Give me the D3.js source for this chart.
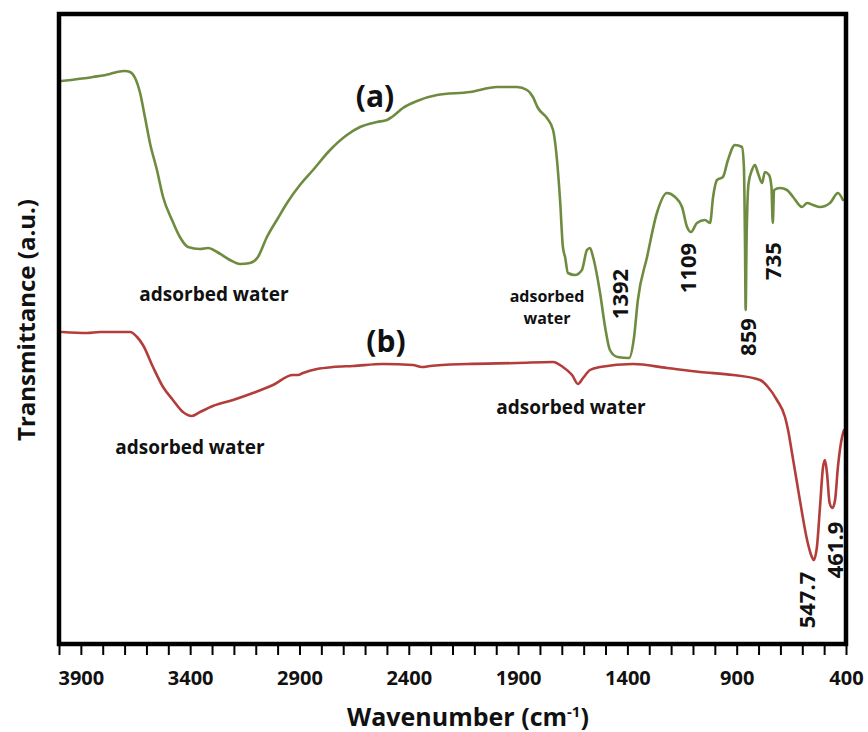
<!DOCTYPE html>
<html>
<head>
<meta charset="utf-8">
<script src="https://cdn.jsdelivr.net/npm/d3@7"></script>
<style>
  html, body { margin: 0; padding: 0; background: #fff; }
  svg text { font-family: "Open Sans", "DejaVu Sans", sans-serif; font-weight: 700; fill: #111; }
</style>
</head>
<body>
<svg id="chart" width="868" height="732"></svg>
<script>
// FTIR spectra: (a) precursor, (b) calcined product
const waveA = [3990, 3844, 3767, 3735, 3698, 3675, 3652, 3629, 3607, 3584,
  3552, 3524, 3483, 3447, 3410, 3355, 3318, 3277, 3218, 3172,
  3126, 3090, 3049, 2998, 2957, 2898, 2838, 2760, 2683, 2623,
  2545, 2500, 2477, 2427, 2362, 2271, 2120, 1996, 1905, 1859,
  1832, 1809, 1768, 1740, 1722, 1708, 1695, 1685, 1672, 1640,
  1608, 1585, 1571, 1557, 1525, 1502, 1480, 1445, 1392, 1370,
  1352, 1310, 1265, 1219, 1182, 1150, 1127, 1109, 1082, 1045,
  1022, 1008, 990, 963, 940, 908, 876, 867, 862, 859,
  855, 846, 830, 816, 803, 784, 771, 752, 741, 735,
  729, 702, 670, 642, 601, 578, 551, 519, 473, 437, 414];
const transA = [56.3, 56.7, 57.0, 57.2, 57.3, 57.2, 56.6, 55.1, 52.7, 50.1,
  47.4, 44.7, 42.4, 40.7, 39.7, 39.5, 39.6, 39.2, 38.4, 38.0,
  38.1, 38.7, 40.7, 42.6, 44.1, 45.9, 47.4, 49.4, 50.9, 51.7,
  52.2, 52.4, 52.7, 53.6, 54.3, 54.9, 55.2, 55.7, 55.7, 55.4,
  54.7, 53.6, 52.6, 51.4, 48.4, 44.4, 39.7, 38.7, 37.1, 36.9,
  37.4, 39.4, 39.6, 38.7, 35.1, 31.7, 29.4, 28.7, 28.6, 30.6,
  34.4, 38.7, 43.1, 45.1, 44.7, 43.7, 41.7, 41.2, 42.1, 42.4,
  42.1, 44.7, 46.4, 46.7, 48.4, 49.9, 49.7, 47.7, 40.0, 33.4,
  40.0, 46.0, 47.4, 47.9, 47.1, 46.1, 47.2, 46.9, 45.7, 42.1,
  45.4, 45.6, 45.4, 44.7, 43.7, 44.1, 43.9, 43.7, 44.1, 45.1, 44.4];

const waveB = [3986, 3872, 3812, 3675, 3643, 3616, 3570, 3524, 3479, 3433,
  3392, 3355, 3296, 3204, 3113, 3021, 2930, 2907, 2884, 2820,
  2747, 2655, 2518, 2381, 2340, 2303, 2134, 1905, 1740, 1695,
  1653, 1626, 1603, 1571, 1525, 1374, 1219, 1068, 917, 793,
  757, 716, 679, 665, 647, 624, 601, 578, 556, 547.7,
  533, 519, 505, 496, 487, 475, 461.9, 450, 437, 418, 409];
const transB = [31.2, 31.1, 31.2, 31.2, 30.7, 29.9, 27.7, 25.7, 24.4, 23.2,
  22.8, 23.2, 23.8, 24.4, 25.1, 25.9, 26.9, 26.9, 27.1, 27.5,
  27.7, 27.8, 28.0, 27.9, 27.7, 27.8, 28.0, 28.1, 28.2, 27.7,
  26.9, 26.0, 26.6, 27.4, 27.7, 28.0, 27.6, 27.2, 26.9, 26.4,
  25.7, 24.4, 22.7, 21.4, 19.1, 16.1, 13.1, 10.4, 8.7, 8.4,
  9.7, 13.7, 17.7, 18.4, 17.1, 14.1, 13.6, 14.4, 17.7, 20.7, 21.4];

const tickValues = d3.range(400, 4001, 100);
const tickLabels = [3900, 3400, 2900, 2400, 1900, 1400, 900, 400];
const peaksA = [1392, 1109, 859, 735];
const peaksB = [547.7, 461.9];

const svg = d3.select("#chart");
const plot = { left: 59, right: 846, top: 14, bottom: 644 };

const x = d3.scaleLinear().domain([4000, 400]).range([plot.left, plot.right]);
const y = d3.scaleLinear().domain([0, 63]).range([plot.bottom, plot.top]);

const line = d3.line()
  .x(d => x(d[0]))
  .y(d => y(d[1]))
  .curve(d3.curveMonotoneX);

const seriesA = waveA.map((w, i) => [w, transA[i]]);
const seriesB = waveB.map((w, i) => [w, transB[i]]);

svg.append("path").datum(seriesA)
  .attr("d", line).attr("fill", "none")
  .attr("stroke", "#6f8b40").attr("stroke-width", 2.6)
  .attr("stroke-linejoin", "round").attr("stroke-linecap", "round");

svg.append("path").datum(seriesB)
  .attr("d", line).attr("fill", "none")
  .attr("stroke", "#b33d3b").attr("stroke-width", 2.6)
  .attr("stroke-linejoin", "round").attr("stroke-linecap", "round");

// frame
svg.append("rect")
  .attr("x", plot.left).attr("y", plot.top)
  .attr("width", plot.right - plot.left).attr("height", plot.bottom - plot.top)
  .attr("fill", "none").attr("stroke", "#000").attr("stroke-width", 4.5);

// bottom axis: ticks every 100 cm-1, labels every 500
const axis = d3.axisBottom(x)
  .tickValues(tickValues)
  .tickSize(9)
  .tickFormat(d => tickLabels.includes(d) ? String(d) : "");
const gx = svg.append("g").attr("transform", `translate(0,${plot.bottom + 2})`).call(axis);
gx.select(".domain").remove();
gx.selectAll(".tick line").attr("stroke", "#000").attr("stroke-width", 2);
gx.selectAll(".tick text")
  .attr("y", 39).attr("dy", 0)
  .style("font-family", "'Open Sans', sans-serif")
  .style("font-weight", 700)
  .style("font-size", "20px")
  .attr("fill", "#111");

// axis titles
const xt = svg.append("text")
  .attr("x", 468).attr("y", 726)
  .attr("text-anchor", "middle")
  .style("font-size", "25px");
xt.append("tspan").text("Wavenumber (cm");
xt.append("tspan").attr("dy", -9).style("font-size", "15px").text("-1");
xt.append("tspan").attr("dy", 9).text(")");

svg.append("text")
  .attr("transform", "translate(35,320) rotate(-90)")
  .attr("text-anchor", "middle")
  .style("font-size", "24px")
  .text("Transmittance (a.u.)");

// series labels
svg.append("text").attr("x", 375).attr("y", 107)
  .attr("text-anchor", "middle").style("font-size", "30px").text("(a)");
svg.append("text").attr("x", 386).attr("y", 352)
  .attr("text-anchor", "middle").style("font-size", "30px").text("(b)");

// band assignments (one text per note, lines as tspans)
const notes = [
  { lines: ["adsorbed water"], x: 214, y: 301, size: 19, gap: 0 },
  { lines: ["adsorbed water"], x: 190, y: 454, size: 19, gap: 0 },
  { lines: ["adsorbed water"], x: 571, y: 414, size: 19, gap: 0 },
  { lines: ["adsorbed", "water"], x: 547, y: 302, size: 16, gap: 22 }
];
const noteText = svg.selectAll("text.note").data(notes).enter().append("text")
  .attr("class", "note")
  .attr("x", d => d.x).attr("y", d => d.y)
  .attr("text-anchor", "middle")
  .style("font-size", d => d.size + "px");
noteText.each(function(d) {
  const t = d3.select(this);
  d.lines.forEach((s, i) => {
    t.append("tspan").attr("x", d.x).attr("dy", i === 0 ? 0 : d.gap).text(s);
  });
});

// peak positions, rotated
const peakLayout = {
  1392: { dx: -9, cy: 294 },
  1109: { dx: -3, cy: 268 },
  859: { dx: 2, cy: 337 },
  735: { dx: 0, cy: 261 },
  547.7: { dx: -7, cy: 600 },
  461.9: { dx: 2.5, cy: 550 }
};
svg.selectAll("text.peak").data(peaksA.concat(peaksB)).enter().append("text")
  .attr("class", "peak")
  .attr("transform", d => `translate(${x(d) + peakLayout[d].dx + 8},${peakLayout[d].cy}) rotate(-90)`)
  .attr("text-anchor", "middle")
  .style("font-size", "22px")
  .text(d => String(d));
</script>
</body>
</html>
